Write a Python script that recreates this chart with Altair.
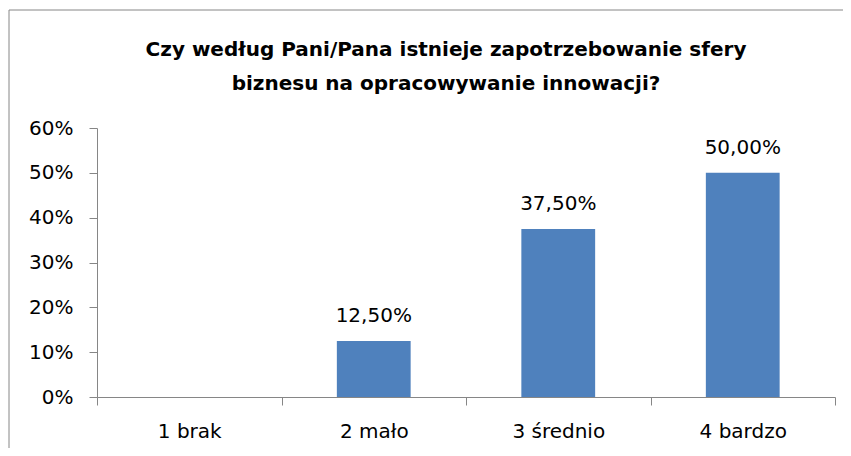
import altair as alt
import pandas as pd

categories = ["1 brak", "2 mało", "3 średnio", "4 bardzo"]
shares = [0.0, 0.125, 0.375, 0.5]
y_ticks = [0, 0.1, 0.2, 0.3, 0.4, 0.5, 0.6]
title_lines = [
    "Czy według Pani/Pana istnieje zapotrzebowanie sfery",
    "biznesu na opracowywanie innowacji?",
]

df = pd.DataFrame({"kat": categories, "udzial": shares})

W, H = 738, 269
FONT = "DejaVu Sans"
AX = "#868686"
BAR = "#4F81BD"

x_enc = alt.X(
    "kat:N",
    sort=categories,
    title=None,
    scale=alt.Scale(paddingInner=0, paddingOuter=0),
    axis=alt.Axis(
        labelAngle=0,
        tickBand="extent",
        domainColor=AX,
        tickColor=AX,
        tickSize=8,
        labelPadding=16,
        labelFont=FONT,
        labelFontSize=20,
        labelColor="black",
        grid=False,
    ),
)
y_enc = alt.Y(
    "udzial:Q",
    title=None,
    scale=alt.Scale(domain=[0, 0.6], nice=False),
    axis=alt.Axis(
        values=y_ticks,
        format=".0%",
        grid=False,
        domainColor=AX,
        tickColor=AX,
        tickSize=8,
        labelPadding=16,
        labelFont=FONT,
        labelFontSize=20,
        labelColor="black",
    ),
)

frame = (
    alt.Chart(pd.DataFrame({"k": [0]}))
    .mark_rect(fillOpacity=0, stroke=AX, strokeWidth=1)
    .encode(
        x=alt.value(-88),
        x2=alt.value(W + 80),
        y=alt.value(-118),
        y2=alt.value(H + 120),
    )
)

title = (
    alt.Chart(pd.DataFrame({"k": [0]}))
    .mark_text(
        text=title_lines,
        lineHeight=34,
        font=FONT,
        fontSize=20,
        fontWeight="bold",
        color="black",
        align="center",
        baseline="alphabetic",
    )
    .encode(x=alt.value(349), y=alt.value(-72))
)

base = alt.Chart(df)
bars = base.mark_bar(color=BAR, width=alt.RelativeBandSize(0.4)).encode(x=x_enc, y=y_enc)
labels = (
    base.transform_filter("datum.udzial > 0")
    .transform_calculate(lab="replace(format(datum.udzial, '.2%'), '.', ',')")
    .mark_text(baseline="alphabetic", dy=-19, font=FONT, fontSize=20, color="black")
    .encode(x=x_enc, y=y_enc, text="lab:N")
)

chart = (
    alt.layer(frame, title, bars, labels)
    .properties(
        width=W,
        height=H,
        padding={"left": 89, "top": 120, "right": 8, "bottom": 51},
        autosize=alt.AutoSizeParams(type="none"),
        background="white",
    )
    .configure_view(stroke="transparent")
)

chart.save("out.html", embed_options={"renderer": "svg", "actions": False})
